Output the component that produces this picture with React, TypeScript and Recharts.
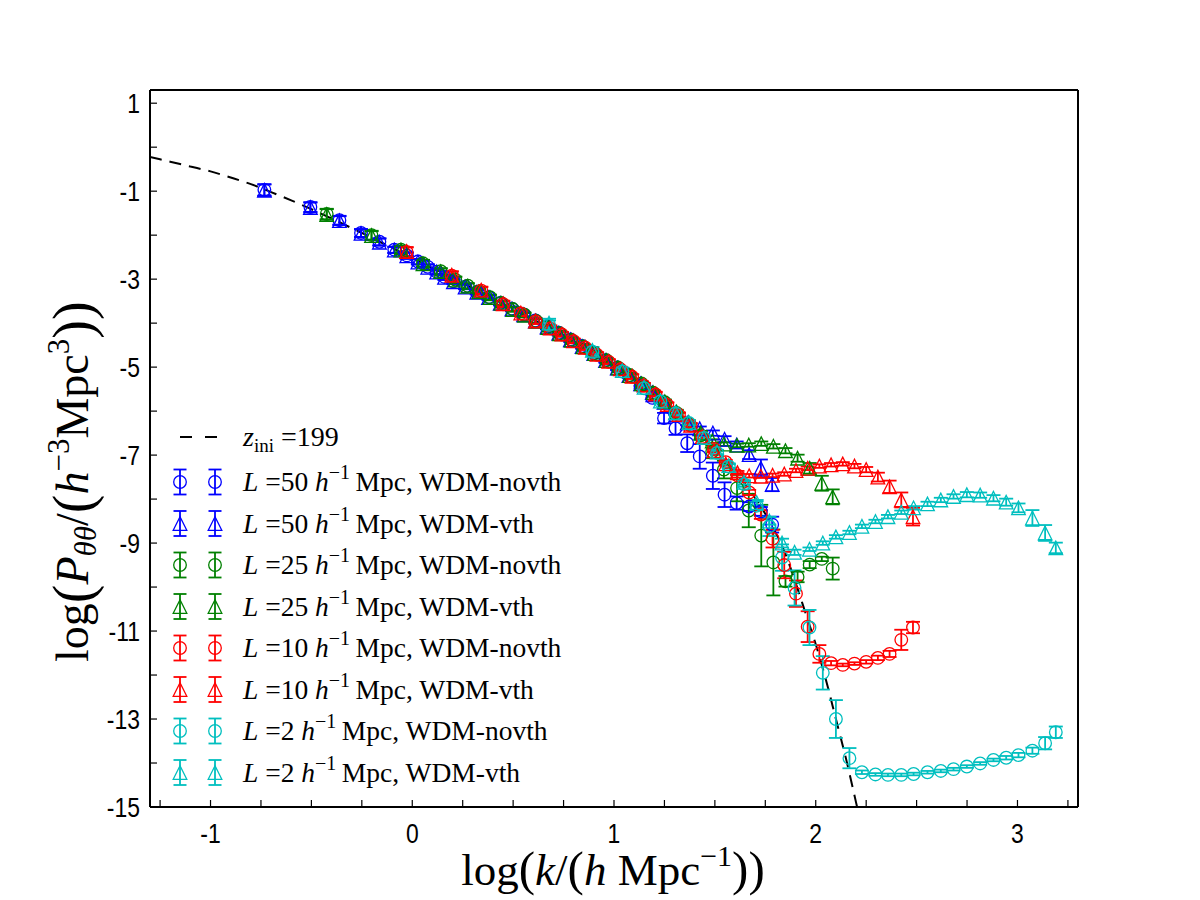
import React from 'react'
import {
  ComposedChart,
  Scatter,
  Line,
  XAxis,
  YAxis,
  ErrorBar,
  Customized,
} from 'recharts'

// linear theory at z_ini = 199
const zIniK = [-1.3, -1.2, -1.1, -1.0, -0.9, -0.8, -0.7, -0.6, -0.5, -0.4, -0.3, -0.2, -0.1, 0.0, 0.1, 0.2, 0.3, 0.4, 0.5, 0.6, 0.7, 0.8, 0.9, 1.0, 1.1, 1.2, 1.3, 1.4, 1.5, 1.6, 1.7, 1.8, 1.85, 1.9, 1.95, 2.0, 2.05, 2.1, 2.15, 2.2, 2.25]
const zIniP = [-0.22, -0.33, -0.44, -0.55, -0.69, -0.84, -1.02, -1.21, -1.41, -1.62, -1.84, -2.06, -2.29, -2.52, -2.75, -2.98, -3.21, -3.44, -3.68, -3.92, -4.16, -4.41, -4.67, -4.95, -5.25, -5.6, -6.0, -6.42, -6.88, -7.38, -7.98, -8.75, -9.25, -9.9, -10.6, -11.3, -12.1, -13.0, -13.9, -14.9, -15.9]

// L = 50 Mpc/h
const kL50 = [-0.733, -0.505, -0.361, -0.254, -0.163, -0.089, -0.027, 0.028, 0.077, 0.121, 0.16, 0.204, 0.262, 0.32, 0.378, 0.436, 0.494, 0.552, 0.61, 0.668, 0.726, 0.784, 0.842, 0.9, 0.958, 1.016, 1.074, 1.132, 1.19, 1.248, 1.305, 1.363, 1.425, 1.49, 1.548, 1.608, 1.67, 1.728, 1.784]
const pL50novth = [-0.97, -1.36, -1.66, -1.95, -2.15, -2.33, -2.46, -2.6, -2.72, -2.83, -2.95, -3.05, -3.17, -3.29, -3.41, -3.54, -3.67, -3.8, -3.94, -4.08, -4.22, -4.37, -4.52, -4.68, -4.84, -5.01, -5.19, -5.42, -5.7, -6.16, -6.39, -6.73, -7.03, -7.47, -7.9, -8.09, -8.17, -8.28, -8.58]
const eL50novth = [0.13, 0.11, 0.1, 0.09, 0.08, 0.07, 0.07, 0.06, 0.06, 0.06, 0.06, 0.05, 0.05, 0.05, 0.05, 0.05, 0.05, 0.05, 0.05, 0.05, 0.05, 0.05, 0.05, 0.05, 0.05, 0.05, 0.06, 0.06, 0.08, 0.12, 0.15, 0.2, 0.28, 0.3, 0.28, 0.15, 0.1, 0.1, 0.18]
const pL50vth = [-0.98, -1.37, -1.67, -1.96, -2.16, -2.34, -2.47, -2.61, -2.73, -2.84, -2.96, -3.06, -3.18, -3.3, -3.42, -3.55, -3.68, -3.81, -3.95, -4.09, -4.23, -4.38, -4.53, -4.69, -4.85, -5.02, -5.19, -5.38, -5.58, -5.8, -6.04, -6.27, -6.4, -6.5, -6.64, -6.77, -6.99, -7.3, -7.67]
const eL50vth = [0.13, 0.11, 0.1, 0.09, 0.08, 0.07, 0.07, 0.06, 0.06, 0.06, 0.06, 0.05, 0.05, 0.05, 0.05, 0.05, 0.05, 0.05, 0.05, 0.05, 0.05, 0.05, 0.05, 0.05, 0.05, 0.05, 0.05, 0.05, 0.05, 0.05, 0.05, 0.05, 0.05, 0.06, 0.07, 0.08, 0.1, 0.2, 0.15]

// L = 25 Mpc/h
const kL25 = [-0.424, -0.202, -0.056, 0.053, 0.141, 0.213, 0.275, 0.33, 0.385, 0.44, 0.498, 0.556, 0.614, 0.672, 0.73, 0.788, 0.846, 0.904, 0.962, 1.02, 1.078, 1.136, 1.194, 1.252, 1.31, 1.37, 1.43, 1.487, 1.545, 1.61, 1.668, 1.73, 1.79, 1.85, 1.91, 1.97, 2.03, 2.084]
const pL25novth = [-1.52, -2.0, -2.33, -2.64, -2.82, -3.01, -3.15, -3.28, -3.41, -3.54, -3.68, -3.81, -3.95, -4.09, -4.23, -4.38, -4.53, -4.68, -4.84, -5.01, -5.18, -5.37, -5.58, -5.8, -6.04, -6.29, -6.55, -6.92, -7.33, -7.75, -8.26, -8.83, -9.44, -9.87, -9.77, -9.49, -9.36, -9.58]
const eL25novth = [0.12, 0.1, 0.09, 0.08, 0.07, 0.07, 0.06, 0.06, 0.06, 0.05, 0.05, 0.05, 0.05, 0.05, 0.05, 0.05, 0.05, 0.05, 0.05, 0.05, 0.05, 0.05, 0.05, 0.06, 0.07, 0.08, 0.1, 0.15, 0.2, 0.3, 0.38, 0.7, 0.75, 0.12, 0.12, 0.08, 0.05, 0.25]
const pL25vth = [-1.53, -2.01, -2.34, -2.65, -2.83, -3.02, -3.16, -3.29, -3.42, -3.55, -3.69, -3.82, -3.96, -4.1, -4.24, -4.39, -4.54, -4.69, -4.85, -5.02, -5.19, -5.38, -5.58, -5.79, -6.02, -6.26, -6.5, -6.68, -6.75, -6.78, -6.77, -6.74, -6.8, -6.9, -7.07, -7.3, -7.64, -7.95]
const eL25vth = [0.12, 0.1, 0.09, 0.08, 0.07, 0.07, 0.06, 0.06, 0.06, 0.05, 0.05, 0.05, 0.05, 0.05, 0.05, 0.05, 0.05, 0.05, 0.05, 0.05, 0.05, 0.05, 0.05, 0.05, 0.05, 0.05, 0.05, 0.04, 0.04, 0.04, 0.04, 0.05, 0.05, 0.06, 0.08, 0.12, 0.17, 0.17]

// L = 10 Mpc/h
const kL10 = [-0.028, 0.196, 0.342, 0.451, 0.538, 0.611, 0.684, 0.742, 0.8, 0.858, 0.916, 0.974, 1.032, 1.09, 1.148, 1.206, 1.264, 1.322, 1.38, 1.438, 1.496, 1.554, 1.612, 1.67, 1.728, 1.786, 1.844, 1.902, 1.96, 2.018, 2.076, 2.134, 2.192, 2.25, 2.308, 2.366, 2.424, 2.482]
const pL10novth = [-2.38, -2.92, -3.26, -3.57, -3.78, -3.96, -4.12, -4.26, -4.41, -4.56, -4.72, -4.88, -5.05, -5.22, -5.42, -5.62, -5.86, -6.09, -6.33, -6.59, -6.86, -7.16, -7.46, -7.85, -8.35, -8.9, -9.5, -10.15, -10.9, -11.52, -11.73, -11.77, -11.74, -11.7, -11.61, -11.52, -11.2, -10.92]
const eL10novth = [0.1, 0.09, 0.08, 0.07, 0.06, 0.06, 0.06, 0.05, 0.05, 0.05, 0.05, 0.05, 0.05, 0.05, 0.05, 0.05, 0.05, 0.05, 0.05, 0.05, 0.05, 0.05, 0.05, 0.06, 0.1, 0.2, 0.3, 0.3, 0.35, 0.2, 0.05, 0.03, 0.03, 0.04, 0.05, 0.07, 0.23, 0.13]
const pL10vth = [-2.37, -2.91, -3.25, -3.56, -3.77, -3.95, -4.11, -4.25, -4.4, -4.55, -4.71, -4.87, -5.04, -5.21, -5.41, -5.61, -5.85, -6.08, -6.32, -6.58, -6.9, -7.2, -7.4, -7.47, -7.48, -7.46, -7.43, -7.35, -7.3, -7.25, -7.22, -7.2, -7.25, -7.33, -7.5, -7.72, -8.02, -8.4]
const eL10vth = [0.1, 0.09, 0.08, 0.07, 0.06, 0.06, 0.06, 0.05, 0.05, 0.05, 0.05, 0.05, 0.05, 0.05, 0.05, 0.05, 0.05, 0.05, 0.05, 0.05, 0.04, 0.04, 0.04, 0.04, 0.04, 0.04, 0.04, 0.04, 0.04, 0.04, 0.04, 0.04, 0.05, 0.06, 0.1, 0.14, 0.17, 0.2]

// L = 2 Mpc/h
const kL2 = [0.678, 0.893, 1.041, 1.149, 1.23, 1.305, 1.371, 1.446, 1.511, 1.569, 1.644, 1.707, 1.77, 1.833, 1.895, 1.969, 2.035, 2.1, 2.167, 2.229, 2.296, 2.358, 2.424, 2.485, 2.554, 2.62, 2.683, 2.749, 2.815, 2.881, 2.944, 3.005, 3.074, 3.137, 3.19]
const pL2novth = [-4.04, -4.65, -5.1, -5.48, -5.78, -6.05, -6.27, -6.61, -6.95, -7.26, -7.66, -8.15, -8.62, -9.33, -10.02, -10.92, -11.95, -13.0, -13.89, -14.21, -14.26, -14.27, -14.27, -14.25, -14.21, -14.18, -14.14, -14.08, -14.01, -13.93, -13.88, -13.82, -13.72, -13.55, -13.3]
const eL2novth = [0.1, 0.08, 0.07, 0.06, 0.05, 0.05, 0.05, 0.05, 0.05, 0.05, 0.06, 0.1, 0.22, 0.3, 0.4, 0.4, 0.38, 0.43, 0.23, 0.04, 0.03, 0.03, 0.03, 0.03, 0.03, 0.03, 0.03, 0.03, 0.03, 0.03, 0.04, 0.05, 0.07, 0.14, 0.13]
const pL2vth = [-4.0, -4.62, -5.08, -5.46, -5.77, -6.04, -6.26, -6.6, -6.93, -7.24, -7.62, -8.08, -8.5, -9.0, -9.21, -9.14, -9.0, -8.86, -8.76, -8.62, -8.51, -8.4, -8.3, -8.2, -8.11, -8.02, -7.94, -7.9, -7.91, -7.98, -8.07, -8.2, -8.43, -8.77, -9.11]
const eL2vth = [0.1, 0.08, 0.07, 0.06, 0.05, 0.05, 0.05, 0.05, 0.05, 0.05, 0.05, 0.06, 0.08, 0.1, 0.06, 0.04, 0.04, 0.04, 0.04, 0.04, 0.04, 0.04, 0.04, 0.04, 0.05, 0.05, 0.05, 0.06, 0.06, 0.07, 0.08, 0.1, 0.18, 0.18, 0.12]

const xTicks = [-1.25, -1, -0.75, -0.5, -0.25, 0, 0.25, 0.5, 0.75, 1, 1.25, 1.5, 1.75, 2, 2.25, 2.5, 2.75, 3, 3.25]
const yTicks = [1, 0, -1, -2, -3, -4, -5, -6, -7, -8, -9, -10, -11, -12, -13, -14, -15]

const BLUE = '#0000ff'
const GREEN = '#008000'
const RED = '#ff0000'
const CYAN = '#00bfbf'
const SERIF = '"Liberation Serif", "DejaVu Serif", serif'
const SANS = '"Liberation Sans", Arial, sans-serif'

const toPoints = (xs: number[], ys: number[], es: number[]) =>
  xs.map((x, i) => ({ x, y: ys[i], err: es[i] }))

const zIniData = zIniK.map((x, i) => ({ x, y: zIniP[i] }))

type Series = {
  name: string
  color: string
  marker: 'o' | '^'
  data: { x: number; y: number; err: number }[]
}

const series: Series[] = [
  { name: '50', color: BLUE, marker: 'o', data: toPoints(kL50, pL50novth, eL50novth) },
  { name: '50', color: BLUE, marker: '^', data: toPoints(kL50, pL50vth, eL50vth) },
  { name: '25', color: GREEN, marker: 'o', data: toPoints(kL25, pL25novth, eL25novth) },
  { name: '25', color: GREEN, marker: '^', data: toPoints(kL25, pL25vth, eL25vth) },
  { name: '10', color: RED, marker: 'o', data: toPoints(kL10, pL10novth, eL10novth) },
  { name: '10', color: RED, marker: '^', data: toPoints(kL10, pL10vth, eL10vth) },
  { name: '2', color: CYAN, marker: 'o', data: toPoints(kL2, pL2novth, eL2novth) },
  { name: '2', color: CYAN, marker: '^', data: toPoints(kL2, pL2vth, eL2vth) },
]

function markerShape(color: string, marker: 'o' | '^') {
  return (p: any) => {
    if (p.cx == null || p.cy == null) return <g />
    if (marker === 'o') {
      return <circle cx={p.cx} cy={p.cy} r={6.3} fill="none" stroke={color} strokeWidth={1.3} />
    }
    const h = 6.8
    const pts = `${p.cx},${p.cy - h} ${p.cx - h},${p.cy + h} ${p.cx + h},${p.cy + h}`
    return <polygon points={pts} fill="none" stroke={color} strokeWidth={1.3} />
  }
}

function XTick(props: any) {
  const { x, y, payload } = props
  const v = payload.value
  if (!Number.isInteger(v)) return <g />
  return (
    <g transform={`translate(${x},${y}) scale(0.85,1)`}>
      <text textAnchor="middle" fontSize={27} fontFamily={SANS} fill="#000">
        {String(v)}
      </text>
    </g>
  )
}

function YTick(props: any) {
  const { x, y, payload } = props
  const v = payload.value
  if (Math.abs(v) % 2 !== 1) return <g />
  return (
    <g transform={`translate(${x},${y}) scale(0.85,1)`}>
      <text textAnchor="end" dy="0.36em" fontSize={27} fontFamily={SANS} fill="#000">
        {String(v)}
      </text>
    </g>
  )
}

// legend and axis titles
function Decorations() {
  const rowY = [482, 523.5, 565, 606.5, 648, 689.5, 731, 772.5]
  const labels = ['WDM-novth', 'WDM-vth']
  return (
    <g>
      <line x1={180} y1={437} x2={192} y2={437} stroke="#000" strokeWidth={2} />
      <line x1={205} y1={437} x2={217} y2={437} stroke="#000" strokeWidth={2} />
      <text x={243} y={446} fontSize={28} fontFamily={SERIF} fill="#000">
        <tspan fontStyle="italic">z</tspan>
        <tspan fontSize={19} dy={6}>ini</tspan>
        <tspan dy={-6}> =199</tspan>
      </text>
      {series.map((s, i) => {
        const cy = rowY[i]
        const shape = markerShape(s.color, s.marker)
        return (
          <g key={i}>
            {[180, 215].map((cx) => (
              <g key={cx}>
                <line x1={cx} y1={cy - 12.5} x2={cx} y2={cy + 12.5} stroke={s.color} strokeWidth={1.8} />
                <line x1={cx - 6.5} y1={cy - 12.5} x2={cx + 6.5} y2={cy - 12.5} stroke={s.color} strokeWidth={1.8} />
                <line x1={cx - 6.5} y1={cy + 12.5} x2={cx + 6.5} y2={cy + 12.5} stroke={s.color} strokeWidth={1.8} />
                {shape({ cx, cy })}
              </g>
            ))}
            <text x={243} y={cy + 9} fontSize={27.5} fontFamily={SERIF} fill="#000">
              <tspan fontStyle="italic">L</tspan>
              <tspan>{` =${s.name} `}</tspan>
              <tspan fontStyle="italic">h</tspan>
              <tspan fontSize={20} dy={-12}>{'\u22121'}</tspan>
              <tspan dy={12}>{`\u2009Mpc, ${labels[i % 2]}`}</tspan>
            </text>
          </g>
        )
      })}
      <text x={613} y={885} textAnchor="middle" fontSize={45} fontFamily={SERIF} fill="#000">
        <tspan>log</tspan>
        <tspan fontSize={49}>(</tspan>
        <tspan fontStyle="italic">k</tspan>
        <tspan>/</tspan>
        <tspan fontSize={49}>(</tspan>
        <tspan fontStyle="italic">h</tspan>
        <tspan> Mpc</tspan>
        <tspan fontSize={30} dy={-19}>{'\u22121'}</tspan>
        <tspan fontSize={49} dy={19}>))</tspan>
      </text>
      <text
        x={88}
        y={662}
        transform="rotate(-90, 88, 662)"
        textAnchor="start"
        fontSize={46}
        fontFamily={SERIF}
        fill="#000"
      >
        <tspan>log</tspan>
        <tspan fontSize={56} dy={4}>(</tspan>
        <tspan fontStyle="italic" dy={-4}>P</tspan>
        <tspan fontStyle="italic" fontSize={31} dy={8}>θθ</tspan>
        <tspan dy={-8}>/</tspan>
        <tspan fontSize={56} dy={4}>(</tspan>
        <tspan fontStyle="italic" dy={-4}>h</tspan>
        <tspan fontSize={31} dy={-19}>{'\u22123'}</tspan>
        <tspan dy={19}>Mpc</tspan>
        <tspan fontSize={31} dy={-19}>3</tspan>
        <tspan fontSize={56} dy={23}>))</tspan>
      </text>
    </g>
  )
}

const axisLine = { stroke: '#000', strokeWidth: 2 }
const tickLine = { stroke: '#000', strokeWidth: 1.2 }

export default function App() {
  return (
    <div style={{ position: 'absolute', left: 0, top: 0, background: '#fff' }}>
      <ComposedChart
        width={1200}
        height={900}
        margin={{ top: 89, right: 121, bottom: 0, left: 0 }}
      >
        <XAxis
          xAxisId="bottom"
          dataKey="x"
          type="number"
          domain={[-1.3, 3.3]}
          allowDataOverflow
          ticks={xTicks}
          interval={0}
          height={93}
          axisLine={axisLine}
          tickLine={tickLine}
          tickSize={-7}
          tickMargin={43}
          tick={<XTick />}
        />
        <XAxis
          xAxisId="top"
          orientation="top"
          type="number"
          domain={[-1.3, 3.3]}
          allowDataOverflow
          ticks={xTicks}
          interval={0}
          height={1}
          axisLine={axisLine}
          tickLine={tickLine}
          tickSize={-7}
          tick={false}
        />
        <YAxis
          yAxisId="left"
          dataKey="y"
          type="number"
          domain={[-15, 1.3]}
          allowDataOverflow
          ticks={yTicks}
          interval={0}
          width={150}
          axisLine={axisLine}
          tickLine={tickLine}
          tickSize={-7}
          tickMargin={17}
          tick={<YTick />}
        />
        <YAxis
          yAxisId="right"
          orientation="right"
          type="number"
          domain={[-15, 1.3]}
          allowDataOverflow
          ticks={yTicks}
          interval={0}
          width={1}
          axisLine={axisLine}
          tickLine={tickLine}
          tickSize={-7}
          tick={false}
        />
        <Line
          xAxisId="bottom"
          yAxisId="left"
          data={zIniData}
          dataKey="y"
          type="monotone"
          stroke="#000"
          strokeWidth={2}
          strokeDasharray="12 8"
          dot={false}
          activeDot={false}
          isAnimationActive={false}
        />
        {series.map((s, i) => (
          <Scatter
            key={i}
            xAxisId="bottom"
            yAxisId="left"
            data={s.data}
            dataKey="y"
            shape={markerShape(s.color, s.marker)}
            isAnimationActive={false}
          >
            <ErrorBar
              dataKey="err"
              direction="y"
              width={7}
              stroke={s.color}
              strokeWidth={1.8}
              isAnimationActive={false}
            />
          </Scatter>
        ))}
        <Customized component={Decorations} />
      </ComposedChart>
    </div>
  )
}
